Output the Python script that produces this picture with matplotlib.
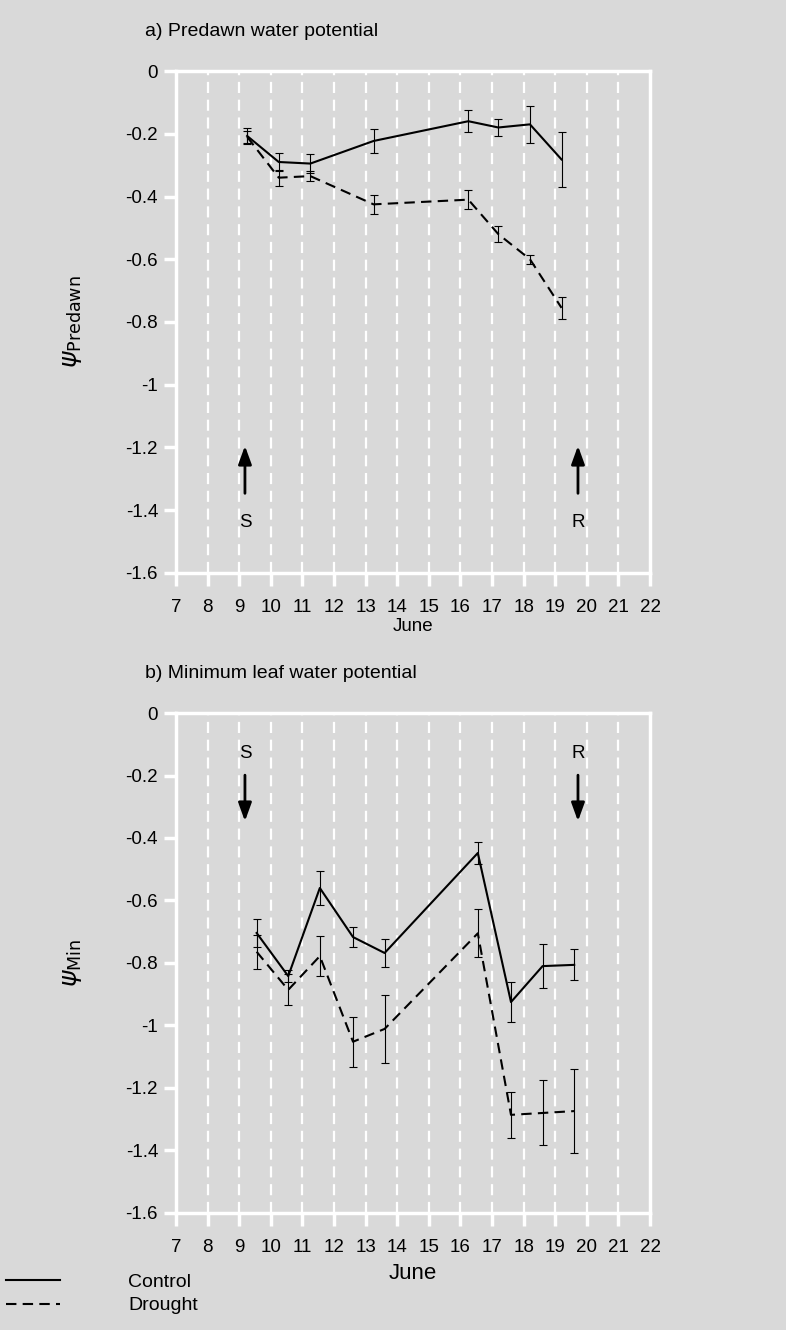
import matplotlib
matplotlib.use('Agg')
import matplotlib.pyplot as plt
from matplotlib.lines import Line2D

plt.rcParams['font.family'] = ['Liberation Sans', 'DejaVu Sans']
plt.rcParams['mathtext.fontset'] = 'dejavusans'

# a) predawn water potential
pd_days = [9.25, 10.25, 11.25, 13.25, 16.25, 17.2, 18.2, 19.2]
pd_control = [-0.207, -0.29, -0.295, -0.223, -0.16, -0.18, -0.17, -0.282]
pd_control_se = [0.025, 0.03, 0.03, 0.038, 0.035, 0.027, 0.06, 0.087]
pd_drought = [-0.21, -0.34, -0.335, -0.425, -0.41, -0.52, -0.60, -0.755]
pd_drought_se = [0.02, 0.025, 0.015, 0.03, 0.03, 0.025, 0.015, 0.035]

# b) minimum leaf water potential
min_days = [9.55, 10.55, 11.55, 12.6, 13.6, 16.55, 17.6, 18.6, 19.6]
min_control = [-0.704, -0.842, -0.56, -0.717, -0.768, -0.448, -0.925, -0.81, -0.806]
min_control_se = [0.045, 0.02, 0.055, 0.033, 0.045, 0.035, 0.065, 0.07, 0.05]
min_drought = [-0.764, -0.886, -0.778, -1.052, -1.011, -0.705, -1.286, -1.28, -1.274]
min_drought_se = [0.055, 0.05, 0.065, 0.08, 0.11, 0.077, 0.073, 0.104, 0.134]

day_ticks = list(range(7, 23))
y_ticks = [0, -0.2, -0.4, -0.6, -0.8, -1, -1.2, -1.4, -1.6]
y_labels = ['0', '-0.2', '-0.4', '-0.6', '-0.8', '-1', '-1.2', '-1.4', '-1.6']

start_day = 9.18
rewater_day = 19.72

bg = '#d9d9d9'
fig = plt.figure(figsize=(7.86, 13.3), dpi=100, facecolor=bg)
ax1 = fig.add_axes([0.224, 0.5692, 0.603, 0.3774])
ax2 = fig.add_axes([0.224, 0.0880, 0.603, 0.3759])


def style_axes(ax):
    ax.set_facecolor(bg)
    ax.set_xlim(7, 22)
    ax.set_ylim(-1.6, 0)
    ax.set_xticks(day_ticks)
    ax.set_yticks(y_ticks)
    ax.set_yticklabels(y_labels)
    for s in ax.spines.values():
        s.set_color('white')
        s.set_linewidth(2.5)
    ax.tick_params(axis='both', direction='out', colors='white', width=2.5,
                   length=9, labelcolor='black', labelsize=13.5)
    ax.tick_params(axis='x', pad=10)
    ax.tick_params(axis='y', pad=4)
    for d in day_ticks[1:-1]:
        ax.axvline(d, color='white', lw=1.6, ls=(0, (5, 3)), zorder=0)


def plot_series(ax, x, c, cse, d, dse):
    ax.errorbar(x, c, yerr=cse, color='black', lw=1.5, elinewidth=0.8,
                capsize=3, capthick=0.8, zorder=3)
    ax.errorbar(x, d, yerr=dse, color='black', lw=1.5, ls=(0, (5, 3)),
                elinewidth=0.8, capsize=3, capthick=0.8, zorder=3)


style_axes(ax1)
plot_series(ax1, pd_days, pd_control, pd_control_se, pd_drought, pd_drought_se)
ax1.set_xlabel('June', fontsize=13.5, labelpad=1)
ax1.set_ylabel(r'$\psi_{\mathrm{Predawn}}$', fontsize=18, labelpad=30)
ax1.text(-0.065, 1.078, 'a) Predawn water potential', transform=ax1.transAxes,
         fontsize=14, va='center')

arrow_up = dict(arrowstyle='-|>,head_length=1.1,head_width=0.4',
                color='black', lw=2)
for day, lab in [(start_day, 'S'), (rewater_day, 'R')]:
    ax1.annotate('', xy=(day, -1.186), xytext=(day, -1.355),
                 arrowprops=arrow_up)
    ax1.text(day, -1.44, lab, ha='center', va='center', fontsize=13.5)

style_axes(ax2)
plot_series(ax2, min_days, min_control, min_control_se, min_drought, min_drought_se)
ax2.set_xlabel('June', fontsize=16, labelpad=5)
ax2.set_ylabel(r'$\psi_{\mathrm{Min}}$', fontsize=18, labelpad=30)
ax2.text(-0.065, 1.08, 'b) Minimum leaf water potential', transform=ax2.transAxes,
         fontsize=14, va='center')
for day, lab in [(start_day, 'S'), (rewater_day, 'R')]:
    ax2.annotate('', xy=(day, -0.355), xytext=(day, -0.19),
                 arrowprops=arrow_up)
    ax2.text(day, -0.128, lab, ha='center', va='center', fontsize=13.5)

handles = [Line2D([], [], color='black', lw=1.5),
           Line2D([], [], color='black', lw=1.5, ls=(0, (5, 3)))]
fig.legend(handles, ['Control', 'Drought'], loc='upper left',
           bbox_to_anchor=(0.0, 0.047), frameon=False, fontsize=14,
           handlelength=2.8, handletextpad=3.5, labelspacing=0.3,
           borderaxespad=0.1, borderpad=0.2)

fig.savefig('out.png', dpi=100, facecolor=bg)
